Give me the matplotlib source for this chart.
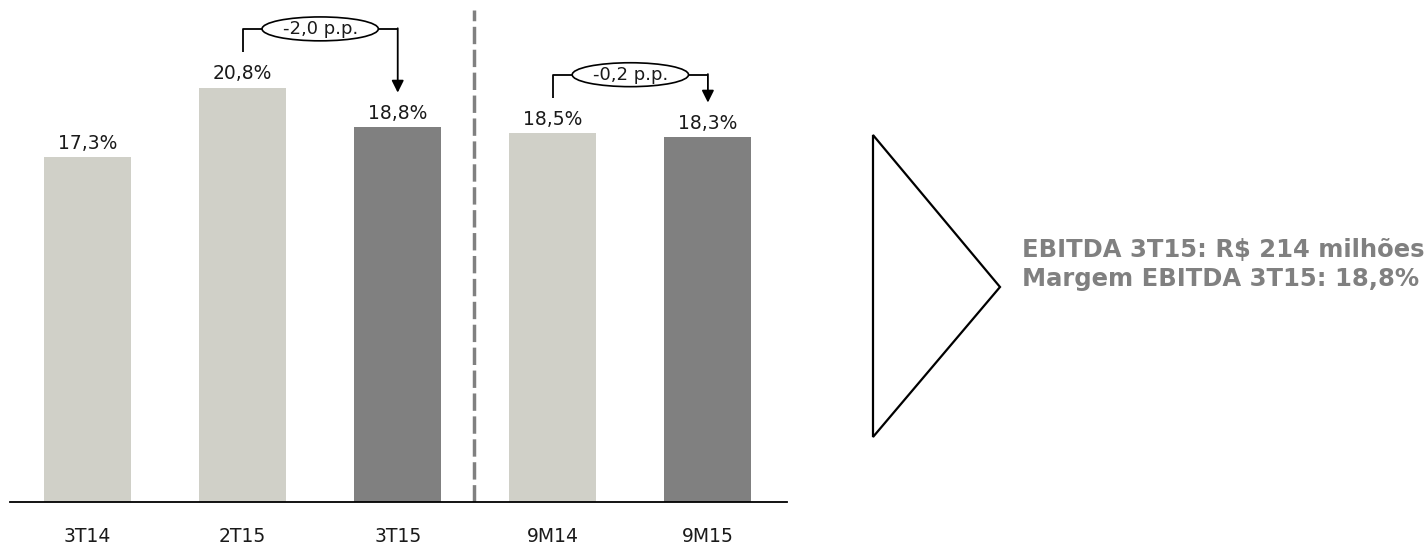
import numpy as np
import matplotlib
matplotlib.use('Agg')
import matplotlib.pyplot as plt
from matplotlib.patches import Ellipse, Polygon

# EBITDA margin by period
categories = ['3T14', '2T15', '3T15', '9M14', '9M15']
margins = [17.3, 20.8, 18.8, 18.5, 18.3]
bar_colors = ['#D0D0C8', '#D0D0C8', '#808080', '#D0D0C8', '#808080']
# variation brackets: (from bar, to bar, label)
deltas = [(1, 2, '-2,0 p.p.'), (3, 4, '-0,2 p.p.')]
summary = ['EBITDA 3T15: R$ 214 milhões', 'Margem EBITDA 3T15: 18,8%']

W, H = 1426, 547
fig = plt.figure(figsize=(W / 100, H / 100), dpi=100)
ax = fig.add_axes([10 / W, 45 / H, 777 / W, 502 / H])

x = np.arange(len(categories))
ax.bar(x, margins, width=0.56, color=bar_colors, zorder=2)
ax.set_xlim(-0.5, 4.51)
ax.set_ylim(0, 25.2)

def fmt(v):
    return f'{v:.1f}%'.replace('.', ',')

for xi, v in zip(x, margins):
    ax.annotate(fmt(v), (xi, v), xytext=(0, 3), textcoords='offset points',
                ha='center', va='bottom', fontsize=13.5, color='#1a1a1a')

# separator between quarters and year-to-date
ax.axvline(2.49, ymin=0, ymax=0.98, color='#808080', lw=2.5,
           linestyle=(0, (5, 1.6)), zorder=1)

for i, j, lab in deltas:
    y0 = margins[i] + 1.8
    top = margins[i] + 2.95
    y1 = margins[j] + 1.75
    ax.plot([x[i], x[i], x[j]], [y0, top, top], color='black', lw=1.3,
            solid_capstyle='butt', zorder=3)
    ax.annotate('', xy=(x[j], y1), xytext=(x[j], top + 0.03),
                arrowprops=dict(arrowstyle='-|>', color='black', lw=1.3,
                                mutation_scale=18, shrinkA=0, shrinkB=0),
                zorder=3)
    xm = (x[i] + x[j]) / 2
    ax.add_patch(Ellipse((xm, top), 0.75, 1.2, facecolor='white',
                         edgecolor='black', lw=1.2, zorder=4))
    ax.text(xm, top, lab, ha='center', va='center', fontsize=13,
            color='#1a1a1a', zorder=5)

for s in ['top', 'right', 'left']:
    ax.spines[s].set_visible(False)
ax.spines['bottom'].set_linewidth(1.3)
ax.set_yticks([])
ax.set_xticks(x)
ax.set_xticklabels(categories, fontsize=13.5, color='#1a1a1a')
ax.tick_params(axis='x', length=0, pad=18)

# arrow pointing to the summary text
tri = Polygon([(873 / W, 1 - 135 / H), (873 / W, 1 - 437 / H),
               (1000 / W, 1 - 287 / H)], closed=True, fill=False,
              edgecolor='black', lw=1.6, transform=fig.transFigure)
fig.patches.append(tri)

fig.text(1022 / W, 1 - 250 / H, summary[0], fontsize=17.5, fontweight='bold',
         color='#808080', ha='left', va='center')
fig.text(1022 / W, 1 - 279 / H, summary[1], fontsize=17.5, fontweight='bold',
         color='#808080', ha='left', va='center')

fig.savefig('out.png', dpi=100)
